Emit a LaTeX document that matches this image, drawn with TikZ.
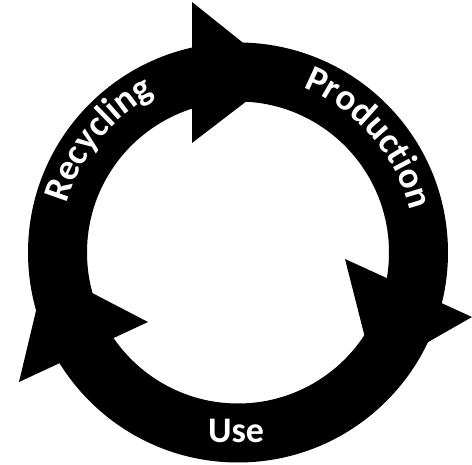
\documentclass[tikz,border=0pt]{standalone}
\usepackage{fontspec}
\setmainfont{Carlito}
\usetikzlibrary{decorations.text}
\tikzset{
  ringfill/.style={fill=black},
  headfill/.style={fill=black},
  labelfont/.style={font=\bfseries\fontsize{36}{36}\selectfont, text=white},
}
\begin{document}
\begin{tikzpicture}[x=1pt,y=1pt]
\useasboundingbox (0,0) rectangle (472,464);
\coordinate (c) at (238,211.5);
% ring
\fill[ringfill, even odd rule] (c) circle (210pt) (c) circle (151pt);
% arrowheads
\coordinate (t1) at (192,462); \coordinate (t2) at (192,321); \coordinate (t3) at (282,390);
\coordinate (r1) at (345,205); \coordinate (r2) at (472,147); \coordinate (r3) at (374,91);
\coordinate (l1) at (148,142); \coordinate (l2) at (19,82);   \coordinate (l3) at (46,195);
\fill[headfill] (t1) -- (t3) -- (t2) -- cycle;
\fill[headfill] (r1) -- (r3) -- (r2) -- cycle;
\fill[headfill] (l1) -- (l3) -- (l2) -- cycle;
% curved labels
\path[decorate, decoration={text along path, text align=center,
  text={|\bfseries\fontsize{37}{37}\selectfont\color{white}|Recycling}}]
  (c) ++(181:178pt) arc (181:101:178pt);
\path[decorate, decoration={text along path, text align=center,
  text={|\bfseries\fontsize{37}{37}\selectfont\color{white}|Production}}]
  (c) ++(81:177pt) arc (81:1:177pt);
% bottom label
\node[labelfont, anchor=base, inner sep=0pt] (use) at (236,21) {Use};
\end{tikzpicture}
\end{document}
